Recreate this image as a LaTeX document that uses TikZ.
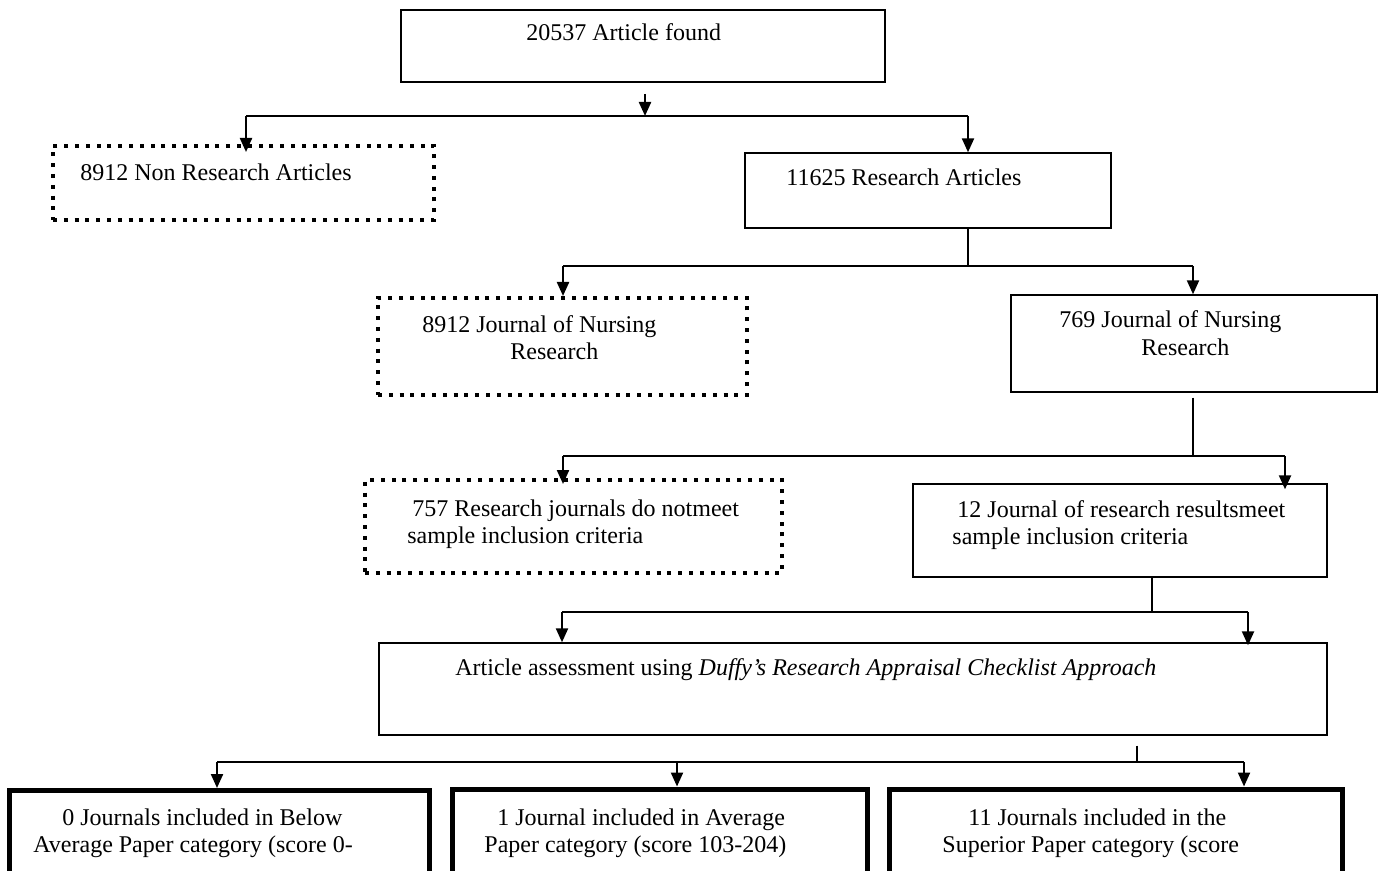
\documentclass[tikz,border=0pt]{standalone}
\usepackage{fontspec}
\setmainfont{Liberation Serif}
\usetikzlibrary{arrows.meta,fit}
\begin{document}
\begin{tikzpicture}[x=0.5pt,y=-0.5pt,
  box/.style={draw, line width=0.7pt, inner sep=0pt},
  dotbox/.style={draw, line width=2pt, dash pattern=on 2pt off 3.4pt, inner sep=0pt},
  thickbox/.style={draw, line width=2.5pt, inner sep=0pt},
  conn/.style={line width=1.1pt},
  arr/.style={line width=1.1pt, -{Triangle[length=7pt,width=6pt]}},
  txt/.style={anchor=base west, inner sep=0pt, font=\fontsize{12}{13.5}\selectfont}]
\useasboundingbox (0,0) rectangle (1384,871);
\clip (0,0) rectangle (1384,871);

% boxes
\node[box, fit={(401,10) (885,82)}] (found) {};
\node[dotbox, fit={(53,146) (434,220)}] (nonres) {};
\node[box, fit={(745,153) (1111,228)}] (res) {};
\node[dotbox, fit={(378,298) (747,395)}] (jnr1) {};
\node[box, fit={(1011,295) (1377,392)}] (jnr2) {};
\node[dotbox, fit={(365,480) (782,573)}] (notmeet) {};
\node[box, fit={(913,484) (1327,577)}] (meet) {};
\node[box, fit={(379,643) (1327,735)}] (assess) {};
\node[thickbox, fit={(9.5,790.5) (429.5,905)}] (below) {};
\node[thickbox, fit={(452,789) (867,905)}] (avg) {};
\node[thickbox, fit={(889,789) (1342,905)}] (sup) {};

% texts
\node[txt] (t1) at (526,41) {20537 Article found};
\node[txt] (t2) at (80,181) {8912 Non Research Articles};
\node[txt] (t3) at (786,186) {11625 Research Articles};
\node[txt] (t4a) at (422,332) {8912 Journal of Nursing};
\node[txt] (t4b) at (510,359) {Research};
\node[txt] (t5a) at (1059,328) {769 Journal of Nursing};
\node[txt] (t5b) at (1141,355) {Research};
\node[txt] (t6a) at (412,516) {757 Research journals do notmeet};
\node[txt] (t6b) at (407,543) {sample inclusion criteria};
\node[txt] (t7a) at (957,517) {12 Journal of research resultsmeet};
\node[txt] (t7b) at (952,544) {sample inclusion criteria};
\node[txt] (t8) at (455,675) {Article assessment using \textit{Duffy's Research Appraisal Checklist Approach}};
\node[txt] (t9a) at (62,825) {0 Journals included in Below};
\node[txt] (t9b) at (33,852) {Average Paper category (score 0-};
\node[txt] (t10a) at (497,825) {1 Journal included in Average};
\node[txt] (t10b) at (484,852) {Paper category (score 103-204)};
\node[txt] (t11a) at (968,825) {11 Journals included in the};
\node[txt] (t11b) at (942,852) {Superior Paper category (score};

% level 1
\coordinate (a0) at (645,94);
\coordinate (b1) at (645,116);
\coordinate (b1l) at (246,116);
\coordinate (b1r) at (968,116);
\draw[arr] (a0) -- (b1);
\draw[conn] (b1l) -- (b1r);
\draw[arr] (b1l) -- ([yshift=-4pt]b1l |- nonres.north);
\draw[arr] (b1r) -- (b1r |- res.north);

% level 2
\coordinate (b2m) at (968,266);
\coordinate (b2l) at (563,266);
\coordinate (b2r) at (1193,266);
\draw[conn] (b2m |- res.south) -- (b2m);
\draw[conn] (b2l) -- (b2r);
\draw[arr] (b2l) -- (b2l |- jnr1.north);
\draw[arr] (b2r) -- (b2r |- jnr2.north);

% level 3
\coordinate (b3m) at (1193,456);
\coordinate (b3l) at (563,456);
\coordinate (b3r) at (1285,456);
\draw[conn] ([yshift=-2.5pt]b3m |- jnr2.south) -- (b3m);
\draw[conn] (b3l) -- (b3r);
\draw[arr] (b3l) -- ([yshift=-3pt]b3l |- notmeet.north);
\draw[arr] (b3r) -- ([yshift=-3pt]b3r |- meet.north);

% level 4
\coordinate (b4m) at (1152,612);
\coordinate (b4l) at (562,612);
\coordinate (b4r) at (1248,612);
\draw[conn] (b4m |- meet.south) -- (b4m);
\draw[conn] (b4l) -- (b4r);
\draw[arr] (b4l) -- (b4l |- assess.north);
\draw[arr] (b4r) -- ([yshift=-1.5pt]b4r |- assess.north);

% level 5
\coordinate (b5m) at (1137,762);
\coordinate (b5l) at (217,762);
\coordinate (b5c) at (677,762);
\coordinate (b5r) at (1244,762);
\draw[conn] ([yshift=-5pt]b5m |- assess.south) -- (b5m);
\draw[conn] (b5l) -- (b5r);
\draw[arr] (b5l) -- (b5l |- below.north);
\draw[arr] (b5c) -- (b5c |- avg.north);
\draw[arr] (b5r) -- (b5r |- sup.north);
\end{tikzpicture}
\end{document}
